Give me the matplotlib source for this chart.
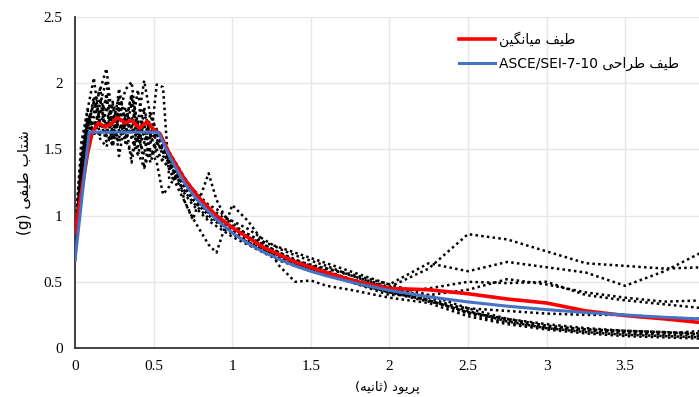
import matplotlib
matplotlib.use('Agg')
import matplotlib.pyplot as plt

# periods (s) shared by all ground-motion records
periods = [0, 0.04, 0.08, 0.12, 0.16, 0.2, 0.24, 0.28, 0.32, 0.36, 0.4, 0.44, 0.48, 0.52, 0.56,
           0.6, 0.65, 0.7, 0.75, 0.8, 0.85, 0.9, 0.95, 1.0, 1.1, 1.2, 1.3, 1.4, 1.5, 1.6, 1.75,
           2.0, 2.25, 2.5, 2.75, 3.0, 3.25, 3.5, 3.75, 4.0]

# spectral acceleration of each record (g)
rec01 = [0.72, 1.30, 1.70, 1.85, 1.95, 2.11, 1.70, 1.90, 1.62, 1.85, 1.55, 1.78, 1.60, 1.50, 1.40,
         1.38, 1.30, 1.22, 1.15, 1.10, 1.04, 0.98, 0.93, 0.88, 0.80, 0.74, 0.68, 0.64, 0.60, 0.57, 0.52,
         0.46, 0.60, 0.86, 0.82, 0.73, 0.64, 0.62, 0.60, 0.61]
rec02 = [0.80, 1.45, 1.80, 2.04, 1.66, 1.92, 1.55, 1.96, 1.70, 1.90, 1.62, 1.82, 1.58, 1.62, 1.52,
         1.48, 1.38, 1.28, 1.18, 1.10, 1.05, 1.00, 0.95, 0.92, 0.86, 0.78, 0.72, 0.66, 0.62, 0.60, 0.56,
         0.48, 0.64, 0.58, 0.65, 0.61, 0.57, 0.47, 0.58, 0.73]
rec03 = [0.68, 1.25, 1.65, 1.86, 1.60, 1.82, 1.52, 1.75, 1.95, 2.01, 1.60, 1.46, 1.78, 1.62, 1.48,
         1.40, 1.30, 1.24, 1.20, 1.14, 1.08, 1.05, 1.00, 0.95, 0.84, 0.76, 0.70, 0.64, 0.60, 0.56, 0.50,
         0.42, 0.45, 0.50, 0.49, 0.50, 0.40, 0.36, 0.33, 0.30]
rec04 = [0.75, 1.35, 1.70, 1.78, 1.96, 1.62, 1.53, 1.85, 1.68, 1.92, 1.70, 2.02, 1.75, 1.65, 1.52,
         1.42, 1.32, 1.20, 1.12, 1.06, 1.00, 0.96, 0.92, 0.88, 0.82, 0.76, 0.68, 0.64, 0.60, 0.56, 0.50,
         0.40, 0.40, 0.44, 0.52, 0.48, 0.42, 0.38, 0.35, 0.36]
rec05 = [0.90, 1.45, 1.75, 1.65, 1.80, 1.68, 1.86, 1.64, 1.78, 1.58, 1.46, 1.64, 1.55, 1.99, 1.97,
         1.27, 1.30, 1.22, 1.12, 1.08, 1.02, 0.98, 0.94, 0.90, 0.84, 0.78, 0.72, 0.66, 0.62, 0.58, 0.52,
         0.42, 0.35, 0.30, 0.28, 0.26, 0.25, 0.25, 0.23, 0.22]
rec06 = [0.70, 1.20, 1.60, 1.72, 1.58, 1.52, 1.65, 1.55, 1.75, 1.62, 1.48, 1.36, 1.50, 1.40, 1.16,
         1.22, 1.32, 1.10, 0.97, 1.15, 1.32, 1.12, 1.00, 0.92, 0.84, 0.78, 0.72, 0.67, 0.62, 0.58, 0.52,
         0.43, 0.36, 0.27, 0.22, 0.18, 0.15, 0.13, 0.12, 0.11]
rec07 = [0.66, 1.20, 1.60, 1.75, 1.88, 1.60, 1.85, 1.45, 1.72, 1.40, 1.70, 1.36, 1.62, 1.45, 1.42,
         1.35, 1.22, 1.10, 0.98, 0.88, 0.78, 0.72, 0.90, 1.08, 0.96, 0.80, 0.62, 0.50, 0.51, 0.47, 0.44,
         0.38, 0.34, 0.24, 0.18, 0.14, 0.11, 0.09, 0.08, 0.07]
rec08 = [0.78, 1.40, 1.72, 1.62, 1.85, 2.02, 1.60, 1.80, 1.55, 1.75, 1.52, 1.70, 1.45, 1.55, 1.50,
         1.42, 1.35, 1.28, 1.20, 1.12, 1.05, 1.02, 0.98, 0.96, 0.90, 0.82, 0.75, 0.70, 0.66, 0.62, 0.55,
         0.46, 0.38, 0.28, 0.20, 0.15, 0.12, 0.10, 0.09, 0.08]
rec09 = [0.70, 1.22, 1.64, 1.90, 1.70, 1.62, 1.75, 1.68, 1.58, 1.46, 1.62, 1.55, 1.68, 1.58, 1.45,
         1.40, 1.28, 1.18, 1.10, 1.04, 0.98, 0.95, 0.90, 0.86, 0.80, 0.74, 0.70, 0.66, 0.63, 0.60, 0.55,
         0.45, 0.36, 0.26, 0.19, 0.15, 0.13, 0.11, 0.10, 0.09]
rec10 = [0.85, 1.55, 1.80, 1.60, 1.78, 1.88, 1.66, 1.58, 1.82, 1.65, 1.95, 1.60, 1.40, 1.55, 1.50,
         1.44, 1.34, 1.24, 1.16, 1.08, 1.02, 0.98, 0.94, 0.92, 0.86, 0.80, 0.76, 0.72, 0.68, 0.64, 0.58,
         0.48, 0.40, 0.30, 0.22, 0.17, 0.14, 0.13, 0.12, 0.10]
rec11 = [0.74, 1.28, 1.60, 1.66, 1.72, 1.56, 1.62, 1.80, 1.60, 1.66, 1.58, 1.62, 1.70, 1.55, 1.48,
         1.38, 1.26, 1.16, 1.08, 1.02, 0.96, 0.92, 0.88, 0.84, 0.78, 0.72, 0.66, 0.62, 0.58, 0.55, 0.50,
         0.42, 0.36, 0.27, 0.21, 0.16, 0.14, 0.12, 0.11, 0.13]
records = [rec01, rec02, rec03, rec04, rec05, rec06, rec07, rec08, rec09, rec10, rec11]

# mean spectrum
mean_T = [0, 0.04, 0.08, 0.11, 0.15, 0.19, 0.23, 0.27, 0.32, 0.36, 0.41, 0.46, 0.5, 0.54, 0.6,
          0.7, 0.8, 0.9, 1.0, 1.2, 1.4, 1.6, 1.8, 2.0, 2.25, 2.5, 2.75, 3.0, 3.25, 3.5, 3.75, 4.0]
mean_sa = [0.87, 1.17, 1.47, 1.63, 1.70, 1.67, 1.69, 1.74, 1.70, 1.72, 1.66, 1.71, 1.65, 1.62, 1.47,
           1.27, 1.12, 1.00, 0.91, 0.76, 0.65, 0.57, 0.50, 0.45, 0.44, 0.41, 0.37, 0.34, 0.28, 0.245, 0.22, 0.19]

# ASCE/SEI 7-10 design spectrum
design_T = [0, 0.09, 0.53, 0.55, 0.6, 0.65, 0.7, 0.75, 0.8, 0.9, 1.0, 1.1, 1.2, 1.3, 1.4, 1.5, 1.6,
            1.8, 2.0, 2.25, 2.5, 2.75, 3.0, 3.25, 3.5, 3.75, 4.0]
design_sa = [0.66, 1.63, 1.63, 1.58, 1.45, 1.34, 1.24, 1.16, 1.09, 0.97, 0.87, 0.79, 0.725, 0.67, 0.62,
             0.58, 0.545, 0.485, 0.435, 0.387, 0.348, 0.316, 0.29, 0.268, 0.249, 0.232, 0.218]

xticks = [0, 0.5, 1, 1.5, 2, 2.5, 3, 3.5]
yticks = [0, 0.5, 1, 1.5, 2, 2.5]

# matplotlib does not shape Persian, so pick the joined glyph forms by hand
# (isolated, final, initial, medial)
forms = {
    'ط': '\ufec1\ufec2\ufec3\ufec4', 'ی': '\ufbfc\ufbfd\ufbfe\ufbff',
    'ف': '\ufed1\ufed2\ufed3\ufed4', 'م': '\ufee1\ufee2\ufee3\ufee4',
    'ن': '\ufee5\ufee6\ufee7\ufee8', 'گ': '\ufb92\ufb93\ufb94\ufb95',
    'ح': '\ufea1\ufea2\ufea3\ufea4', 'ش': '\ufeb5\ufeb6\ufeb7\ufeb8',
    'ت': '\ufe95\ufe96\ufe97\ufe98', 'ب': '\ufe8f\ufe90\ufe91\ufe92',
    'پ': '\ufb56\ufb57\ufb58\ufb59', 'ث': '\ufe99\ufe9a\ufe9b\ufe9c',
    'ه': '\ufee9\ufeea\ufeeb\ufeec',
    'ا': '\ufe8d\ufe8e', 'ر': '\ufead\ufeae', 'و': '\ufeed\ufeee', 'د': '\ufea9\ufeaa',
}


def farsi(text):
    words = []
    for word in text.split(' '):
        s = ''
        for i, ch in enumerate(word):
            f = forms[ch]
            prev = word[i - 1] if i > 0 else ''
            nxt = word[i + 1] if i + 1 < len(word) else ''
            a = prev in forms and len(forms[prev]) == 4
            b = nxt != '' and len(f) == 4
            s += f[3 if a and b else 1 if a else 2 if b else 0]
        words.append(s)
    return ' '.join(words)[::-1]


fig = plt.figure(figsize=(6.99, 3.97), dpi=100)
ax = fig.add_axes([75 / 699, 49 / 397, 1 - 75 / 699, 331 / 397])

for rec in records:
    ax.plot(periods, rec, color='black', linestyle=(0, (1, 1.3)), linewidth=1.8, zorder=2)
ax.plot(mean_T, mean_sa, color='#ff0000', linewidth=2.6, zorder=3, label=farsi('طیف میانگین'))
ax.plot(design_T, design_sa, color='#4472c4', linewidth=2.2, zorder=4,
        label='ASCE/SEI-7-10 ' + farsi('طیف طراحی'))

ax.set_xlim(0, 3.97)
ax.set_ylim(0, 2.5)
ax.set_xticks(xticks)
ax.set_yticks(yticks)
ax.set_xticklabels(['%g' % t for t in xticks], fontfamily='Liberation Serif', fontsize=11)
ax.set_yticklabels(['%g' % t for t in yticks], fontfamily='Liberation Serif', fontsize=11)
ax.tick_params(length=0, pad=9)
ax.grid(True, color='#e6e6e6', linewidth=1)
ax.set_axisbelow(True)
for side in ['top', 'right']:
    ax.spines[side].set_visible(False)
for side in ['left', 'bottom']:
    ax.spines[side].set_color('#333333')
    ax.spines[side].set_linewidth(1.3)

ax.set_xlabel('(' + farsi('ثانیه') + ') ' + farsi('پریود'), fontfamily='DejaVu Sans', fontsize=9.5, labelpad=5)
ax.set_ylabel('(g) ' + farsi('شتاب طیفی'), fontfamily='DejaVu Sans', fontsize=11, labelpad=8)

ax.legend(loc='upper left', bbox_to_anchor=(0.595, 0.995), frameon=False, handlelength=2.6,
          prop={'family': 'DejaVu Sans', 'size': 10}, labelspacing=0.75, handletextpad=0.3)

fig.savefig('out.png', dpi=100)
